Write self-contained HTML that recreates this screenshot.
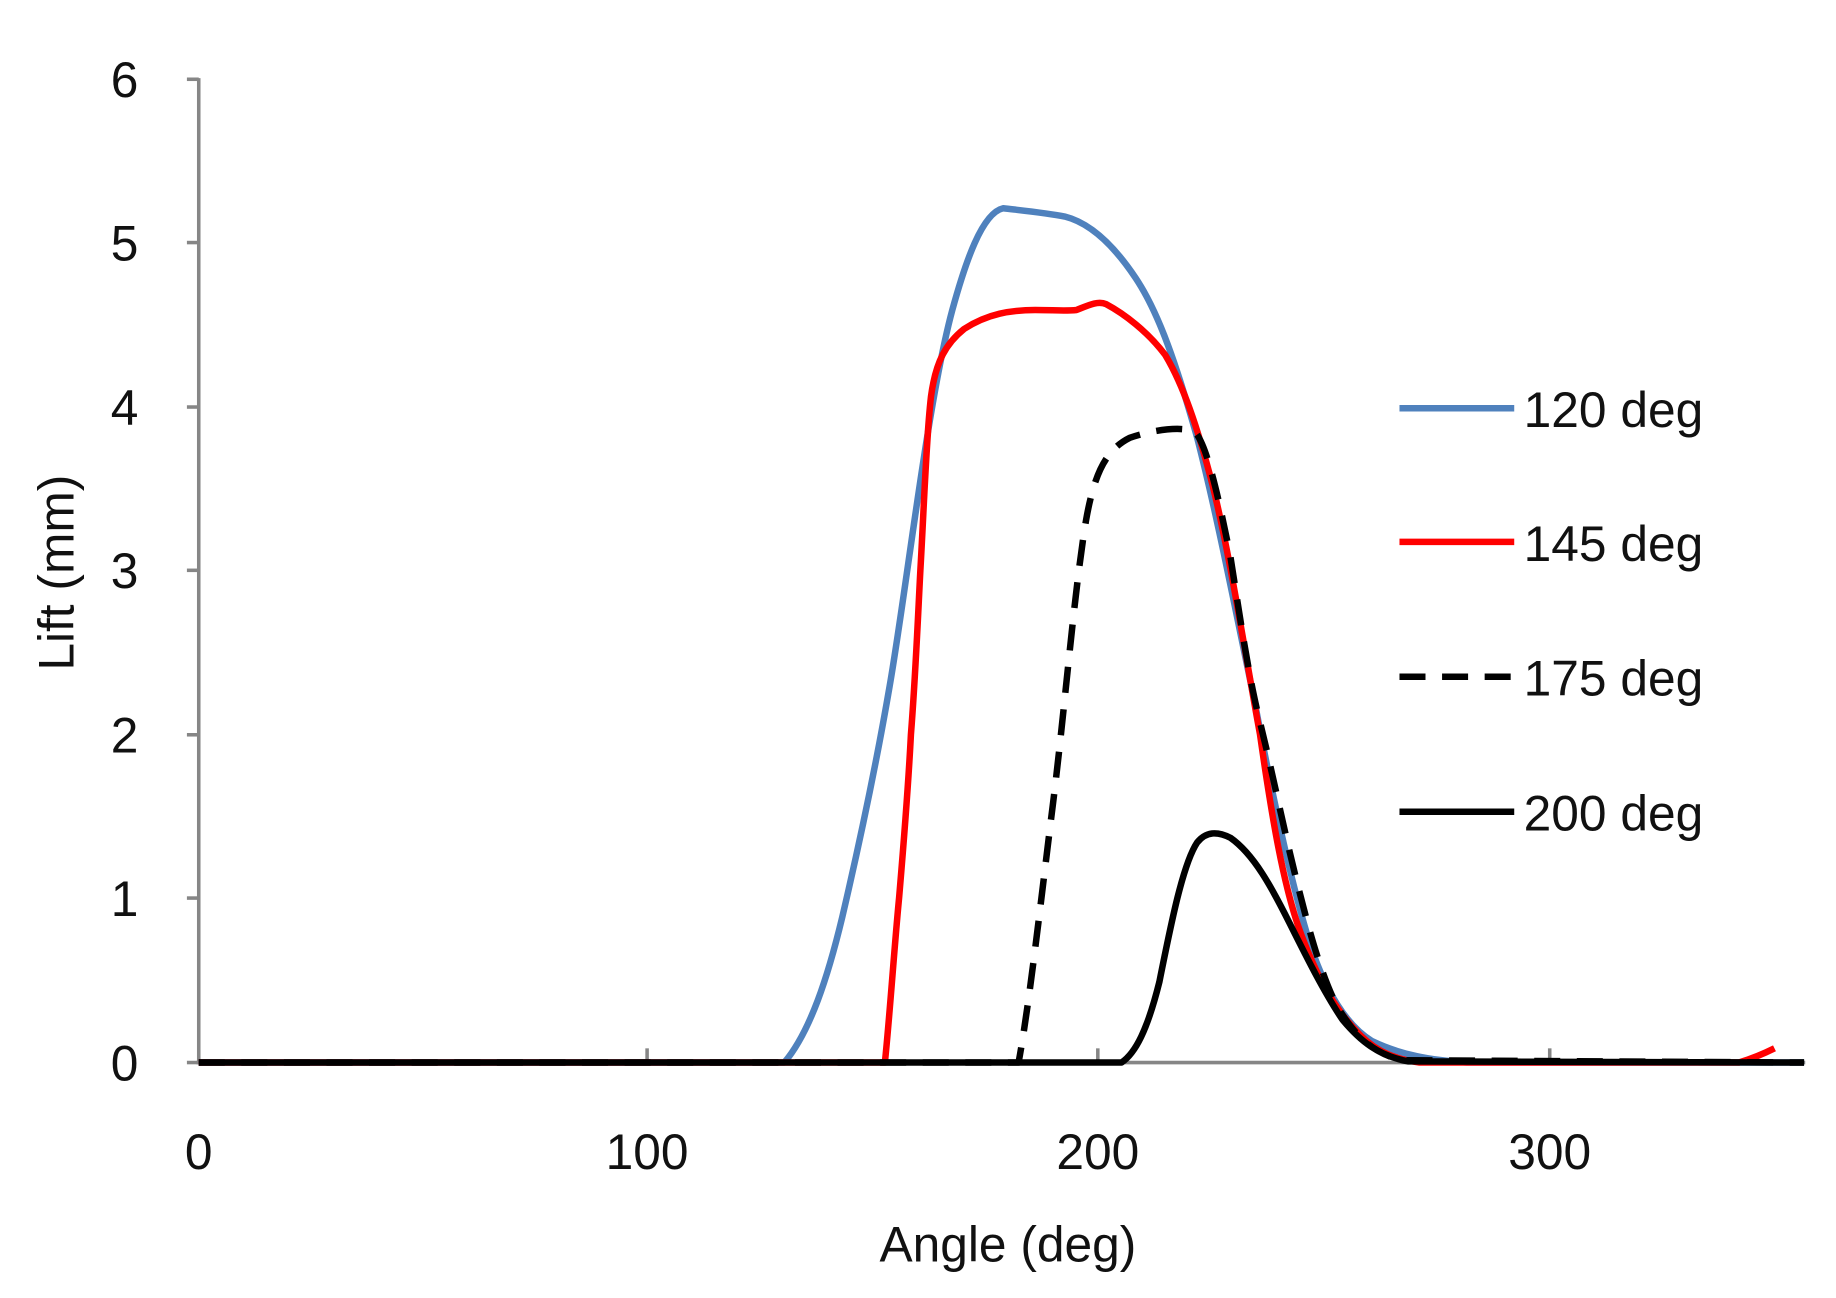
<!DOCTYPE html>
<html><head><meta charset="utf-8"><style>
html,body{margin:0;padding:0;background:#fff;}
svg{display:block;}
text{font-family:"Liberation Sans",sans-serif;fill:#111;}
</style></head><body>
<svg width="1836" height="1298" viewBox="0 0 1552 1097" preserveAspectRatio="none" xmlns="http://www.w3.org/2000/svg">
<g stroke="#868686" stroke-width="3" fill="none">
<line x1="168" y1="66" x2="168" y2="899"/>
<line x1="166" y1="898" x2="1526" y2="898"/>
<line x1="158" y1="67" x2="168" y2="67"/>
<line x1="158" y1="205" x2="168" y2="205"/>
<line x1="158" y1="344" x2="168" y2="344"/>
<line x1="158" y1="482" x2="168" y2="482"/>
<line x1="158" y1="621" x2="168" y2="621"/>
<line x1="158" y1="759" x2="168" y2="759"/>
<line x1="158" y1="898" x2="168" y2="898"/>
<line x1="547" y1="886" x2="547" y2="898"/>
<line x1="928" y1="886" x2="928" y2="898"/>
<line x1="1310" y1="886" x2="1310" y2="898"/>
</g>
<g font-size="42" text-anchor="end">
<text x="117" y="82">6</text><text x="117" y="220">5</text><text x="117" y="359">4</text>
<text x="117" y="497">3</text><text x="117" y="636">2</text><text x="117" y="774">1</text><text x="117" y="913">0</text>
</g>
<g font-size="42" text-anchor="middle">
<text x="168" y="988">0</text><text x="547" y="988">100</text><text x="928" y="988">200</text><text x="1310" y="988">300</text>
<text x="852" y="1066">Angle (deg)</text>
<text transform="translate(62,484) rotate(-90)">Lift (mm)</text>
</g>
<g fill="none" stroke-width="5.5" stroke-linejoin="round" stroke-linecap="butt">
<!-- 120 blue -->
<path stroke="#4f81bd" d="M168,898 L663,898 C685,872 700,825 712,775 C726,715 740,650 752,580 C766,500 784,340 805,262 C816,222 830,180 848,176 C865,178 885,180 900,183 C920,188 940,205 960,235 C980,265 995,310 1012,370 C1030,440 1045,520 1060,590 C1075,670 1090,740 1105,790 C1120,840 1140,868 1160,880 C1185,892 1210,896 1240,898 L1525,898"/>
<!-- 145 red -->
<path stroke="#ff0000" d="M168,898 L748,898 C752,860 756,800 760,759 C765,700 768,660 770,621 C774,570 776,520 778,482 C781,430 783,370 787,335 C791,305 800,290 815,278 C835,265 855,262 875,262 C890,262 900,263 910,262 C920,258 928,254 935,257 C950,265 970,280 985,300 C1000,325 1012,360 1025,410 C1040,470 1052,550 1065,620 C1075,690 1085,750 1100,790 C1115,830 1130,855 1150,875 C1165,890 1180,895 1200,898 L1470,898 C1480,895 1492,890 1500,886"/>
<!-- 200 black -->
<path stroke="#000" d="M168,898 L948,898 C960,890 970,870 980,830 C990,780 1000,730 1012,712 C1020,702 1030,703 1040,708 C1060,722 1075,750 1090,780 C1105,810 1120,840 1135,862 C1150,880 1165,892 1190,897 L1525,898"/>
<!-- 175 dashed -->
<path stroke="#000" stroke-dasharray="22,14" d="M168,898 L861,898 C870,850 880,760 890,680 C900,600 908,500 918,440 C925,400 935,380 955,370 C975,363 1000,360 1010,365 C1020,375 1030,420 1040,470 C1048,520 1055,570 1065,610 C1075,650 1085,700 1095,740 C1105,780 1115,820 1130,850 C1145,875 1160,890 1185,896 L1525,898"/>
<!-- legend -->
<line x1="1183" y1="345" x2="1280" y2="345" stroke="#4f81bd"/>
<line x1="1183" y1="458" x2="1280" y2="458" stroke="#ff0000"/>
<line x1="1183" y1="572" x2="1280" y2="572" stroke="#000" stroke-dasharray="22,14"/>
<line x1="1183" y1="686" x2="1280" y2="686" stroke="#000"/>
</g>
<g font-size="42">
<text x="1288" y="361">120 deg</text>
<text x="1288" y="474">145 deg</text>
<text x="1288" y="588">175 deg</text>
<text x="1288" y="702">200 deg</text>
</g>
</svg>
</body></html>
